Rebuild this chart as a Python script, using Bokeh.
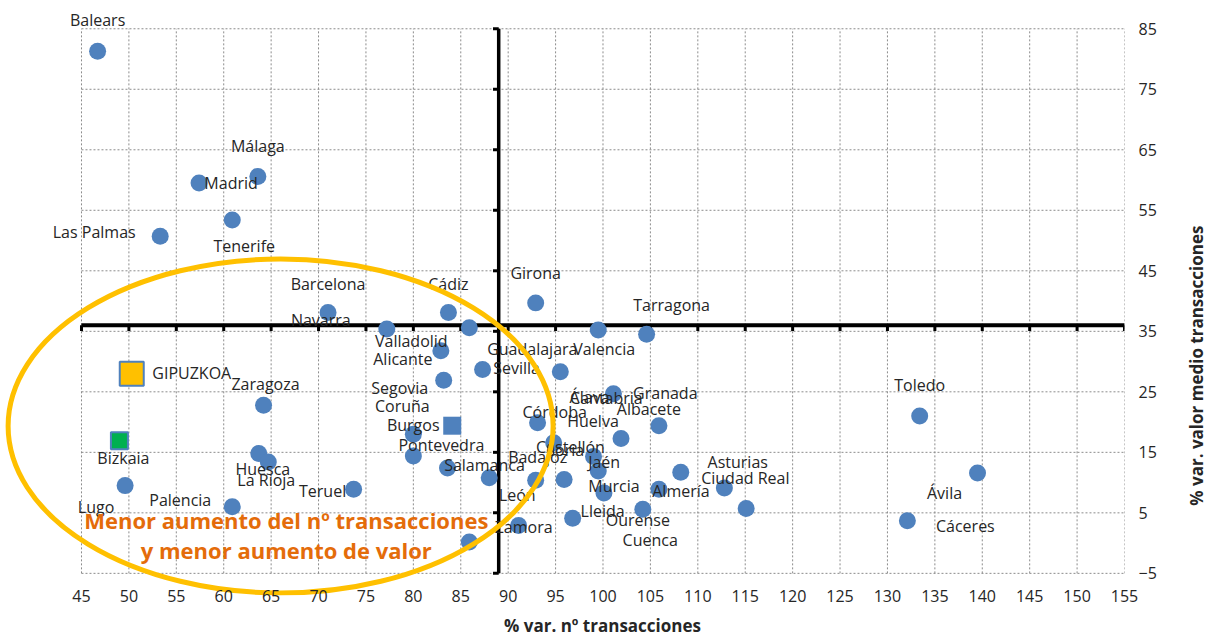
import math
from bokeh.plotting import figure
from bokeh.layouts import row, column
from bokeh.models import ColumnDataSource, FixedTicker, Range1d
from bokeh.embed import file_html
from bokeh.resources import INLINE
from bokeh.core.properties import value

# ---------------- data ----------------
provinces = [
    "Balears", "Málaga", "Madrid", "Tenerife", "Las Palmas", "Barcelona", "Cádiz",
    "Girona", "Tarragona", "Valencia", "Navarra", "Valladolid", "Alicante", "Sevilla",
    "Guadalajara", "Segovia", "GIPUZKOA", "Zaragoza", "Toledo", "Cantabria", "Albacete",
    "Álava", "Huelva", "Burgos", "Coruña", "Bizkaia", "Córdoba", "Pontevedra",
    "Castellón", "Soria", "Salamanca", "Huesca", "La Rioja", "León", "Badajoz", "Jaén",
    "Asturias", "Ávila", "Teruel", "Murcia", "Almería", "Ciudad Real", "Lugo",
    "Palencia", "Cuenca", "Ourense", "Lleida", "Zamora", "Cáceres", "Granada",
]
# % var. nº transacciones
transacciones = [
    46.7, 63.6, 57.4, 60.9, 53.3, 71.0, 83.7,
    92.9, 104.6, 99.5, 77.2, 85.9, 82.9, 87.3,
    95.5, 83.2, 50.3, 64.2, 133.4, 101.1, 105.9,
    93.1, 101.9, 84.1, 80.0, 49.0, 94.8, 80.0,
    99.0, 99.5, 83.6, 63.7, 64.7, 88.0, 92.9, 95.9,
    108.2, 139.5, 73.7, 100.1, 105.9, 112.8, 49.6,
    60.9, 115.1, 104.2, 96.8, 91.1, 132.1, 85.9,
]
# % var. valor medio transacciones
valor_medio = [
    81.3, 60.6, 59.5, 53.4, 50.7, 38.1, 38.1,
    39.7, 34.5, 35.2, 35.4, 35.6, 31.8, 28.7,
    28.3, 26.9, 28.0, 22.8, 21.0, 24.7, 19.4,
    19.9, 17.3, 19.4, 18.0, 16.9, 16.6, 14.4,
    14.3, 11.9, 12.4, 14.8, 13.4, 10.8, 10.4, 10.5,
    11.7, 11.6, 8.9, 8.3, 8.9, 9.1, 9.5,
    6.0, 5.7, 5.6, 4.1, 2.9, 3.7, 0.2,
]
x_ticks = list(range(45, 160, 5))
y_ticks = list(range(-5, 95, 10))
cross_x = 89.0   # vertical reference axis
cross_y = 36.0   # horizontal reference axis

# ---------------- styles / label placement ----------------
BLUE = "#4F81BD"
special = {  # name: (marker, size, fill)
    "GIPUZKOA": ("square", 24, "#FFC000"),
    "Bizkaia": ("square", 17, "#00B050"),
    "Burgos": ("square", 18, BLUE),
}
label_offsets = {  # screen px (dx right, dy down)
    "Balears": (0, -31), "Málaga": (0, -30), "Madrid": (32, 0), "Tenerife": (12, 26),
    "Las Palmas": (-66, -4), "Barcelona": (0, -29), "Cádiz": (0, -29), "Girona": (0, -30),
    "Tarragona": (25, -29), "Valencia": (6, 19), "Navarra": (-66, -9), "Valladolid": (-58, 13),
    "Alicante": (-38, 8), "Sevilla": (34, -1), "Guadalajara": (-28, -23), "Segovia": (-44, 8),
    "GIPUZKOA": (60, -1), "Zaragoza": (2, -21), "Toledo": (0, -31), "Cantabria": (-7, 4),
    "Albacete": (-10, -17), "Álava": (52, -26), "Huelva": (-28, -17), "Burgos": (-39, -1),
    "Coruña": (-11, -28), "Bizkaia": (4, 17), "Córdoba": (1, -31), "Pontevedra": (28, -11),
    "Castellón": (-23, -10), "Soria": (-33, -21), "Salamanca": (37, -3), "Huesca": (4, 15),
    "La Rioja": (-2, 18), "León": (28, 17), "Badajoz": (2, -23), "Jaén": (40, -18),
    "Asturias": (57, -10), "Ávila": (-33, 20), "Teruel": (-31, 2), "Murcia": (10, -7),
    "Almería": (22, 2), "Ciudad Real": (21, -10), "Lugo": (-29, 21), "Palencia": (-52, -7),
    "Cuenca": (-96, 31), "Ourense": (-5, 11), "Lleida": (30, -7), "Zamora": (5, 1),
    "Cáceres": (58, 5), "Granada": (196, -149),
}

FONT = "Open Sans"
TXT = "#262626"
GRID = "#8C8C8C"

# plotting box is 45..155 x -5..85; the frame is a little larger so that labels,
# the ellipse and the annotation can spill outside the gridded area as in the original
p = figure(
    frame_width=1120, frame_height=589,
    min_border_left=4, min_border_right=46, min_border_top=6, min_border_bottom=20,
    x_range=Range1d(36.88, 155), y_range=Range1d(-8.66, 88.68),
    y_axis_location="right",
    output_backend="svg", toolbar_location=None,
    background_fill_color="white", border_fill_color="white",
)
p.outline_line_color = None
p.grid.visible = False

# dotted grid limited to the gridded box
p.segment(x0=x_ticks, y0=[-5] * len(x_ticks), x1=x_ticks, y1=[85] * len(x_ticks),
          line_color=GRID, line_dash="2 2", line_width=1)
p.segment(x0=[45] * len(y_ticks), y0=y_ticks, x1=[155] * len(y_ticks), y1=y_ticks,
          line_color=GRID, line_dash="2 2", line_width=1)

# axes
p.xaxis.ticker = FixedTicker(ticks=x_ticks)
p.yaxis.ticker = FixedTicker(ticks=y_ticks)
for ax in (p.xaxis, p.yaxis):
    ax.axis_line_color = None
    ax.major_tick_line_color = None
    ax.minor_tick_line_color = None
    ax.major_tick_out = 0
    ax.major_tick_in = 0
    ax.minor_tick_out = 0
    ax.major_label_text_font = FONT
    ax.major_label_text_font_size = "16px"
    ax.major_label_text_color = TXT
p.xaxis.major_label_standoff = -6
p.yaxis.major_label_standoff = 14

# cross axes (thick black) with tick marks
p.segment(x0=[45], y0=[cross_y], x1=[155], y1=[cross_y], line_color="black", line_width=4)
p.segment(x0=[cross_x], y0=[-5], x1=[cross_x], y1=[85], line_color="black", line_width=3.5)
p.segment(x0=x_ticks, y0=[cross_y] * len(x_ticks), x1=x_ticks,
          y1=[cross_y - 0.95] * len(x_ticks), line_color="black", line_width=3)
p.segment(x0=[cross_x] * len(y_ticks), y0=y_ticks, x1=[cross_x - 0.6] * len(y_ticks),
          y1=y_ticks, line_color="black", line_width=3)

# points
markers = [special.get(n, ("circle", 17, BLUE))[0] for n in provinces]
sizes = [special.get(n, ("circle", 17, BLUE))[1] for n in provinces]
fills = [special.get(n, ("circle", 17, BLUE))[2] for n in provinces]
lws = [2 if n in special and n != "Burgos" else 0 for n in provinces]
src = ColumnDataSource(dict(
    x=transacciones, y=valor_medio, name=provinces, marker=markers, size=sizes,
    fill=fills, lw=lws,
    dx=[label_offsets[n][0] for n in provinces],
    dy=[label_offsets[n][1] for n in provinces],
))
p.scatter(x="x", y="y", source=src, marker="marker", size="size", fill_color="fill",
          line_color=BLUE, line_width="lw")

# data labels
p.text(x="x", y="y", text="name", source=src, x_offset="dx", y_offset="dy",
       text_align="center", text_baseline="middle", text_font=value(FONT),
       text_font_size="16px", text_color=TXT)

# highlight ellipse
ell_cx, ell_cy = 66.0, 19.35
p.ellipse(x=[ell_cx], y=[ell_cy], width=545, height=334, width_units="screen",
          height_units="screen", fill_color=None, line_color="#FFC000", line_width=5)

# annotation text
note_x = 66.6
p.text(x=[note_x, note_x], y=[3.8, -1.15],
       text=["Menor aumento del nº transacciones", "y menor aumento de valor"],
       text_align="center", text_baseline="middle", text_font=value(FONT),
       text_font_style="bold", text_font_size="22px", text_color="#E46C0A")

# right-hand axis title (reads bottom to top)
t = figure(width=44, height=615, x_range=Range1d(0, 44), y_range=Range1d(0, 615),
           x_axis_location=None, y_axis_location=None,
           min_border=0, output_backend="svg", toolbar_location=None,
           background_fill_color="white", border_fill_color="white")
t.grid.visible = False
t.outline_line_color = None
t.text(x=[26], y=[240], text=["% var. valor medio transacciones"], angle=math.pi / 2,
       text_align="center", text_baseline="middle", text_font=value(FONT),
       text_font_style="bold", text_font_size="17px", text_color=TXT)

# bottom axis title
b = figure(width=1214, height=26, x_range=Range1d(0, 1214), y_range=Range1d(0, 26),
           x_axis_location=None, y_axis_location=None,
           min_border=0, output_backend="svg", toolbar_location=None,
           background_fill_color="white", border_fill_color="white")
b.grid.visible = False
b.outline_line_color = None
b.text(x=[602], y=[16], text=["% var. nº transacciones"],
       text_align="center", text_baseline="middle", text_font=value(FONT),
       text_font_style="bold", text_font_size="17px", text_color=TXT)

open("out.html", "w").write(file_html(column(row(p, t), b), INLINE))
